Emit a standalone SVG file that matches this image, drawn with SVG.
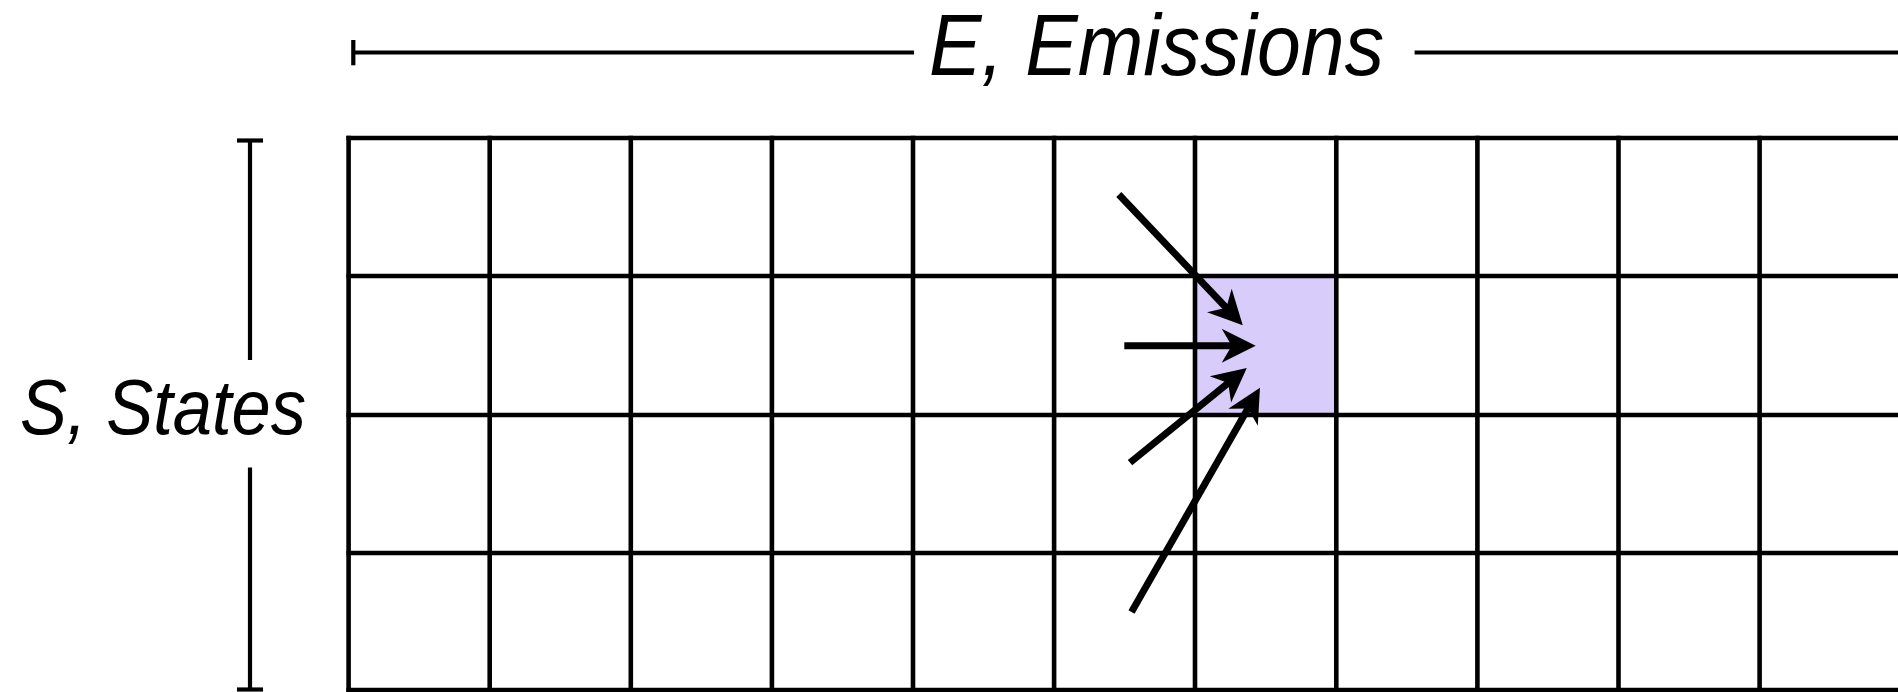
<svg xmlns="http://www.w3.org/2000/svg" width="1898" height="692" viewBox="0 0 1898 692">
<style>
.g{stroke:#000;stroke-width:4.6;fill:none}
.b{stroke:#000;stroke-width:4.2;fill:none}
.a{stroke:#000;stroke-width:7;fill:none;marker-end:url(#head)}
.lbl{font-family:"Liberation Sans",Arial,sans-serif;font-style:italic;fill:#000}
</style>
<defs>
<marker id="head" markerUnits="userSpaceOnUse" orient="auto" refX="0" refY="0" markerWidth="40" markerHeight="40" overflow="visible">
<path d="M12,0 L-22,-17 L-12,0 L-22,17 Z" fill="#000"/>
</marker>
</defs>
<rect width="1898" height="692" fill="#fff"/>
<g id="highlight-cell">
<rect x="1196" y="276.5" width="140.6" height="138.5" fill="#d8ccfb"/>
</g>
<g id="grid">
<line class="g" x1="346.4" y1="138" x2="1898" y2="138"/>
<line class="g" x1="346.4" y1="276" x2="1898" y2="276"/>
<line class="g" x1="346.4" y1="415" x2="1898" y2="415"/>
<line class="g" x1="346.4" y1="553" x2="1898" y2="553"/>
<line class="g" x1="346.4" y1="690" x2="1898" y2="690"/>
<line class="g" x1="348.6" y1="135.8" x2="348.6" y2="692"/>
<line class="g" x1="489.7" y1="135.8" x2="489.7" y2="692"/>
<line class="g" x1="630.8" y1="135.8" x2="630.8" y2="692"/>
<line class="g" x1="771.9" y1="135.8" x2="771.9" y2="692"/>
<line class="g" x1="913" y1="135.8" x2="913" y2="692"/>
<line class="g" x1="1054.1" y1="135.8" x2="1054.1" y2="692"/>
<line class="g" x1="1195" y1="135.8" x2="1195" y2="692"/>
<line class="g" x1="1336.3" y1="135.8" x2="1336.3" y2="692"/>
<line class="g" x1="1477.4" y1="135.8" x2="1477.4" y2="692"/>
<line class="g" x1="1618.5" y1="135.8" x2="1618.5" y2="692"/>
<line class="g" x1="1759.6" y1="135.8" x2="1759.6" y2="692"/>
</g>
<g id="emissions-axis">
<line class="b" x1="353.3" y1="40" x2="353.3" y2="65.3"/>
<line class="b" x1="353.3" y1="52.5" x2="914" y2="52.5"/>
<line class="b" x1="1414.6" y1="52.5" x2="1898" y2="52.5"/>
<text class="lbl" x="929" y="75" font-size="88" textLength="455" lengthAdjust="spacingAndGlyphs">E, Emissions</text>
</g>
<g id="states-axis">
<line class="b" x1="237" y1="140.5" x2="263" y2="140.5"/>
<line class="b" x1="250" y1="140.5" x2="250" y2="360"/>
<line class="b" x1="250" y1="467.5" x2="250" y2="689.5"/>
<line class="b" x1="237" y1="689.5" x2="263" y2="689.5"/>
<text class="lbl" x="20" y="434" font-size="78" textLength="286" lengthAdjust="spacingAndGlyphs">S, States</text>
</g>
<g id="connectors">
<line class="a" x1="1118.8" y1="194.5" x2="1234.5" y2="316.5"/>
<line class="a" x1="1124.3" y1="345.7" x2="1243.7" y2="345.7"/>
<line class="a" x1="1130" y1="462.6" x2="1237.5" y2="375.5"/>
<line class="a" x1="1131.5" y1="612" x2="1254" y2="398.1"/>
</g>
</svg>
